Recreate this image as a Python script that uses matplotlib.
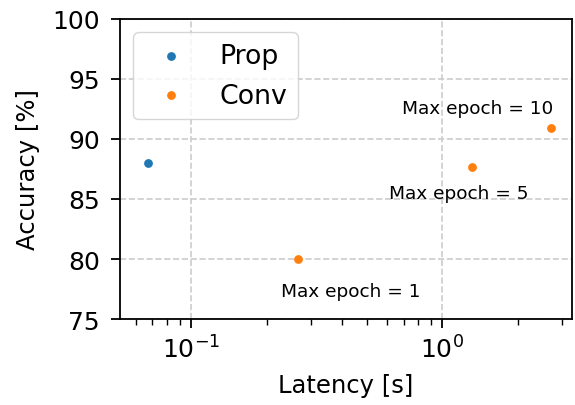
import numpy as np
import matplotlib
matplotlib.use('Agg')
import matplotlib.pyplot as plt

# data
prop_latency = [0.0675]
prop_acc = [88.0]
conv_latency = [0.267, 1.31, 2.70]
conv_acc = [80.0, 87.65, 90.9]
conv_labels = ['Max epoch = 1', 'Max epoch = 5', 'Max epoch = 10']
label_pos = [(0.43, 77.3), (1.16, 85.5), (1.38, 92.6)]

fig = plt.figure(figsize=(5.75, 4.06), dpi=100)
ax = fig.add_axes([0.2087, 0.2118, 0.786, 0.739])

ax.scatter(prop_latency, prop_acc, s=28, color='C0', label='Prop', zorder=3)
ax.scatter(conv_latency, conv_acc, s=28, color='C1', label='Conv', zorder=3)
for lab, (tx, ty) in zip(conv_labels, label_pos):
	ax.text(tx, ty, lab, fontsize=13.3, ha='center', va='center')

ax.set_xscale('log')
ax.set_xlim(0.052, 3.28)
ax.set_ylim(75, 100)
ax.set_yticks(np.arange(75, 101, 5))
ax.set_xlabel('Latency [s]', fontsize=17.5, labelpad=8)
ax.set_ylabel('Accuracy [%]', fontsize=17.5, labelpad=9)
ax.tick_params(which='major', labelsize=18, length=6.5, width=1.3, pad=5)
ax.tick_params(axis='y', which='major', pad=8)
ax.tick_params(which='minor', length=4, width=1.0)
for sp in ax.spines.values():
	sp.set_linewidth(1.3)
ax.grid(True, which='major', linestyle='--', color='0.8', linewidth=1.2)
ax.set_axisbelow(True)
ax.legend(loc='upper left', fontsize=19.3)

plt.savefig('out.png', dpi=100)
